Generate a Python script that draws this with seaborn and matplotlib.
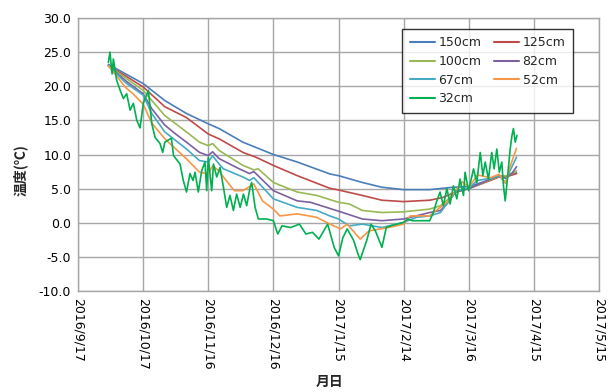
import matplotlib
matplotlib.use("Agg")
import matplotlib.pyplot as plt
import pandas as pd
import seaborn as sns

# Soil temperature by depth (°C)
dates_150 = ["2016-10-01", "2016-10-09", "2016-10-17", "2016-10-27", "2016-11-06", "2016-11-16",
             "2016-11-21", "2016-12-02", "2016-12-16", "2016-12-27", "2017-01-11", "2017-01-15",
             "2017-01-26", "2017-02-04", "2017-02-14", "2017-02-26", "2017-03-04", "2017-03-09",
             "2017-03-16", "2017-03-26", "2017-03-30", "2017-04-03", "2017-04-07"]
temp_150 = [23.2, 21.8, 20.4, 17.9, 16.0, 14.5, 13.8, 11.8, 10.0, 8.9, 7.15, 6.9,
            5.9, 5.2, 4.85, 4.85, 5.05, 5.2, 5.3, 6.3, 6.8, 6.9, 7.3]

dates_125 = ["2016-10-01", "2016-10-09", "2016-10-17", "2016-10-27", "2016-11-06", "2016-11-16",
             "2016-11-21", "2016-12-02", "2016-12-08", "2016-12-16", "2016-12-27", "2017-01-11",
             "2017-01-15", "2017-01-26", "2017-02-04", "2017-02-14", "2017-02-26", "2017-03-04",
             "2017-03-10", "2017-03-16", "2017-03-26", "2017-03-30", "2017-04-03", "2017-04-07"]
temp_125 = [23.0, 21.5, 19.9, 17.0, 15.4, 13.0, 12.3, 10.3, 9.6, 8.4, 6.9, 5.05,
            4.8, 4.0, 3.3, 3.1, 3.3, 3.7, 4.5, 5.0, 6.2, 6.7, 6.8, 7.2]

dates_100 = ["2016-10-01", "2016-10-09", "2016-10-17", "2016-10-21", "2016-10-27", "2016-11-06",
             "2016-11-12", "2016-11-16", "2016-11-18", "2016-11-21", "2016-12-02", "2016-12-07",
             "2016-12-09", "2016-12-16", "2016-12-27", "2017-01-05", "2017-01-15", "2017-01-20",
             "2017-01-26", "2017-02-04", "2017-02-14", "2017-02-26", "2017-03-03", "2017-03-06",
             "2017-03-10", "2017-03-16", "2017-03-26", "2017-03-30", "2017-04-03", "2017-04-07"]
temp_100 = [23.0, 21.2, 19.4, 17.9, 15.7, 13.3, 11.8, 11.3, 11.6, 10.6, 8.4, 7.75,
            7.9, 5.9, 4.5, 4.0, 3.0, 2.75, 1.8, 1.5, 1.6, 2.0, 2.5, 3.3,
            4.6, 5.0, 6.3, 6.8, 6.9, 7.6]

dates_82 = ["2016-10-01", "2016-10-09", "2016-10-17", "2016-10-21", "2016-10-27", "2016-11-01",
            "2016-11-06", "2016-11-12", "2016-11-16", "2016-11-18", "2016-11-21", "2016-11-29",
            "2016-12-05", "2016-12-07", "2016-12-16", "2016-12-27", "2017-01-02", "2017-01-15",
            "2017-01-26", "2017-02-04", "2017-02-14", "2017-02-26", "2017-03-03", "2017-03-06",
            "2017-03-10", "2017-03-16", "2017-03-26", "2017-03-30", "2017-04-02", "2017-04-05",
            "2017-04-07"]
temp_82 = [23.0, 20.8, 18.9, 16.7, 14.3, 13.0, 11.8, 10.3, 9.85, 10.4, 9.4, 8.1,
           7.2, 7.5, 4.7, 3.2, 3.0, 1.7, 0.55, 0.3, 0.55, 1.5, 1.8, 2.8,
           4.5, 5.0, 6.4, 6.9, 6.5, 7.3, 8.2]

dates_67 = ["2016-10-01", "2016-10-09", "2016-10-17", "2016-10-21", "2016-10-27", "2016-11-06",
            "2016-11-12", "2016-11-16", "2016-11-18", "2016-11-21", "2016-11-23", "2016-12-02",
            "2016-12-05", "2016-12-07", "2016-12-16", "2016-12-27", "2017-01-05", "2017-01-11",
            "2017-01-15", "2017-01-20", "2017-01-26", "2017-02-04", "2017-02-14", "2017-02-20",
            "2017-02-26", "2017-03-03", "2017-03-06", "2017-03-10", "2017-03-16", "2017-03-20",
            "2017-03-26", "2017-03-30", "2017-04-02", "2017-04-04", "2017-04-07"]
temp_67 = [23.0, 20.5, 18.7, 16.0, 13.3, 10.8, 9.1, 8.9, 9.8, 8.6, 7.9, 6.7,
           6.2, 6.6, 3.5, 2.25, 1.8, 1.0, 0.55, -0.45, -0.2, -0.7, 0.05, 0.8,
           1.0, 1.5, 2.8, 4.7, 5.1, 6.2, 6.5, 6.9, 5.8, 7.6, 9.6]

dates_52 = ["2016-10-01", "2016-10-09", "2016-10-12", "2016-10-17", "2016-10-21", "2016-10-27",
            "2016-11-06", "2016-11-12", "2016-11-16", "2016-11-18", "2016-11-21", "2016-11-23",
            "2016-11-28", "2016-12-02", "2016-12-07", "2016-12-11", "2016-12-16", "2016-12-19",
            "2016-12-27", "2017-01-05", "2017-01-11", "2017-01-16", "2017-01-19", "2017-01-25",
            "2017-01-29", "2017-02-07", "2017-02-14", "2017-02-17", "2017-02-26", "2017-03-01",
            "2017-03-06", "2017-03-10", "2017-03-13", "2017-03-16", "2017-03-20", "2017-03-26",
            "2017-03-30", "2017-04-02", "2017-04-04", "2017-04-07"]
temp_52 = [23.0, 19.8, 19.0, 17.4, 14.6, 12.3, 9.35, 7.4, 7.2, 8.3, 7.6, 6.7,
           4.7, 4.7, 5.7, 3.2, 2.0, 1.0, 1.3, 0.8, -0.2, -0.9, -0.2, -2.4,
           -1.2, -0.7, -0.2, 1.0, 1.0, 1.8, 3.0, 4.7, 6.0, 5.2, 7.0, 6.6,
           7.1, 5.8, 8.2, 10.9]

dates_32 = ["2016-10-01 00:00", "2016-10-01 17:00", "2016-10-02 17:00", "2016-10-03 07:00",
            "2016-10-04 19:00", "2016-10-06 10:00", "2016-10-07 22:00", "2016-10-09 10:00",
            "2016-10-11 00:00", "2016-10-12 12:00", "2016-10-14 02:00", "2016-10-15 14:00",
            "2016-10-17 02:00", "2016-10-19 10:00", "2016-10-21 00:00", "2016-10-22 12:00",
            "2016-10-24 19:00", "2016-10-26 00:00", "2016-10-27 00:00", "2016-10-30 00:00",
            "2016-10-31 00:00", "2016-11-03 00:00", "2016-11-04 12:00", "2016-11-06 00:00",
            "2016-11-07 14:00", "2016-11-09 00:00", "2016-11-09 22:00", "2016-11-11 10:00",
            "2016-11-13 00:00", "2016-11-14 12:00", "2016-11-15 07:00", "2016-11-16 00:00",
            "2016-11-17 14:00", "2016-11-18 10:00", "2016-11-19 22:00", "2016-11-21 10:00",
            "2016-11-23 00:00", "2016-11-24 12:00", "2016-11-26 00:00", "2016-11-27 14:00",
            "2016-11-29 02:00", "2016-11-30 17:00", "2016-12-02 05:00", "2016-12-03 17:00",
            "2016-12-05 07:00", "2016-12-06 00:00", "2016-12-07 14:00", "2016-12-09 02:00",
            "2016-12-13 00:00", "2016-12-16 00:00", "2016-12-18 00:00", "2016-12-20 00:00",
            "2016-12-24 00:00", "2016-12-28 00:00", "2016-12-31 00:00", "2017-01-03 00:00",
            "2017-01-06 00:00", "2017-01-10 00:00", "2017-01-13 00:00", "2017-01-15 00:00",
            "2017-01-17 00:00", "2017-01-19 00:00", "2017-01-22 00:00", "2017-01-24 00:00",
            "2017-01-25 00:00", "2017-01-28 00:00", "2017-01-30 00:00", "2017-02-01 00:00",
            "2017-02-04 00:00", "2017-02-06 00:00", "2017-02-08 00:00", "2017-02-11 00:00",
            "2017-02-14 00:00", "2017-02-16 00:00", "2017-02-18 00:00", "2017-02-21 00:00",
            "2017-02-26 00:00", "2017-02-27 17:00", "2017-03-01 07:00", "2017-03-02 19:00",
            "2017-03-04 07:00", "2017-03-05 22:00", "2017-03-07 10:00", "2017-03-08 22:00",
            "2017-03-10 12:00", "2017-03-12 00:00", "2017-03-13 14:00", "2017-03-14 07:00",
            "2017-03-15 22:00", "2017-03-18 05:00", "2017-03-19 17:00", "2017-03-21 07:00",
            "2017-03-22 12:00", "2017-03-23 14:00", "2017-03-25 02:00", "2017-03-26 14:00",
            "2017-03-27 17:00", "2017-03-28 22:00", "2017-03-30 02:00", "2017-03-31 05:00",
            "2017-04-01 00:00", "2017-04-01 19:00", "2017-04-02 19:00", "2017-04-04 02:00",
            "2017-04-04 22:00", "2017-04-05 14:00", "2017-04-06 10:00", "2017-04-07 05:00"]
temp_32 = [23.5, 25.0, 21.8, 24.0,
           20.9, 19.4, 18.2, 18.9,
           16.5, 17.5, 15.0, 13.9,
           17.5, 19.4, 14.5, 12.5,
           11.6, 10.3, 11.8, 12.4,
           9.85, 8.6, 6.2, 4.5,
           7.2, 6.2, 7.4, 4.5,
           7.65, 8.9, 4.7, 9.6,
           4.7, 8.6, 6.7, 8.1,
           5.2, 2.25, 4.0, 1.8,
           4.2, 2.25, 4.2, 2.5,
           5.2, 5.9, 2.25, 0.55,
           0.55, 0.3, -1.65, -0.45,
           -0.7, -0.2, -1.65, -1.4,
           -2.4, -0.2, -3.6, -4.85,
           -2.2, -0.9, -2.6, -4.6,
           -5.4, -2.6, -0.2, -1.2,
           -3.6, -0.7, -0.45, -0.2,
           0.05, 0.55, 0.3, 0.3,
           0.3, 1.5, 3.2, 4.5,
           2.5, 5.0, 2.75, 5.4,
           3.5, 6.4, 4.0, 7.4,
           4.7, 7.9, 5.9, 10.3,
           6.9, 8.9, 6.4, 10.3,
           7.9, 10.8, 7.4, 8.9,
           5.4, 3.2, 6.4, 10.8,
           12.8, 13.8, 11.8, 12.8]

depths = ["150cm", "125cm", "100cm", "82cm", "67cm", "52cm", "32cm"]
series = {
    "150cm": (dates_150, temp_150),
    "125cm": (dates_125, temp_125),
    "100cm": (dates_100, temp_100),
    "82cm": (dates_82, temp_82),
    "67cm": (dates_67, temp_67),
    "52cm": (dates_52, temp_52),
    "32cm": (dates_32, temp_32),
}
colors = ["#4A7EBB", "#BE4B48", "#98B954", "#7D60A0", "#46AAC5", "#F79646", "#00B050"]

tick_dates = ["2016-09-17", "2016-10-17", "2016-11-16", "2016-12-16", "2017-01-15",
              "2017-02-14", "2017-03-16", "2017-04-15", "2017-05-15"]
tick_labels = ["2016/9/17", "2016/10/17", "2016/11/16", "2016/12/16", "2017/1/15",
               "2017/2/14", "2017/3/16", "2017/4/15", "2017/5/15"]
y_ticks = [-10, -5, 0, 5, 10, 15, 20, 25, 30]

frames = []
for depth in depths:
    d, t = series[depth]
    frames.append(pd.DataFrame({"date": pd.to_datetime(d, format="mixed"),
                                "temp": t, "depth": depth}))
df = pd.concat(frames, ignore_index=True)

sns.set_style("white")
plt.rcParams["font.family"] = ["DejaVu Sans"]

fig = plt.figure(figsize=(6.11, 3.92), dpi=100)
ax = fig.add_axes([78 / 611, 1 - 291 / 392, 521 / 611, 273 / 392])

sns.lineplot(data=df, x="date", y="temp", hue="depth", hue_order=depths,
             palette=colors, estimator=None, sort=False, linewidth=1.2, ax=ax)

grid_color = "#A6A6A6"
ax.set_xlim(pd.Timestamp(tick_dates[0]), pd.Timestamp(tick_dates[-1]))
ax.set_ylim(-10, 30)
ax.set_xticks(pd.to_datetime(tick_dates))
ax.set_xticklabels(tick_labels, rotation=270, va="top", ha="center", fontsize=9)
ax.set_yticks(y_ticks)
ax.set_yticklabels([f"{v:.1f}" for v in y_ticks], fontsize=9)
ax.grid(True, color=grid_color, linewidth=1.0)
ax.set_axisbelow(True)
for sp in ax.spines.values():
    sp.set_color(grid_color)
    sp.set_linewidth(1.0)
ax.tick_params(axis="both", length=0, pad=5, colors="black")

ax.set_xlabel("月日", fontsize=10, fontweight="bold",
              family=["Noto Sans CJK JP", "DejaVu Sans"])
ax.set_ylabel("温度(℃)", fontsize=10, fontweight="bold",
              family=["Noto Sans CJK JP", "DejaVu Sans"])
ax.xaxis.set_label_coords((330 - 78) / 521, (291 - 375) / 273)
ax.yaxis.set_label_coords((28 - 78) / 521, (291 - 170) / 273)

handles, labels = ax.get_legend_handles_labels()
order = [0, 2, 4, 6, 1, 3, 5]
leg = ax.legend([handles[i] for i in order], [labels[i] for i in order],
                ncol=2, loc="upper left", bbox_to_anchor=((402 - 78) / 521, (291 - 29) / 273),
                borderaxespad=0, frameon=True, fancybox=False, fontsize=9,
                handlelength=2.0, handletextpad=0.3, columnspacing=1.0,
                labelspacing=0.45, borderpad=0.6)
leg.get_frame().set_edgecolor("black")
leg.get_frame().set_linewidth(1.0)
for line in leg.get_lines():
    line.set_linewidth(1.5)

fig.savefig("out.png", dpi=100)
